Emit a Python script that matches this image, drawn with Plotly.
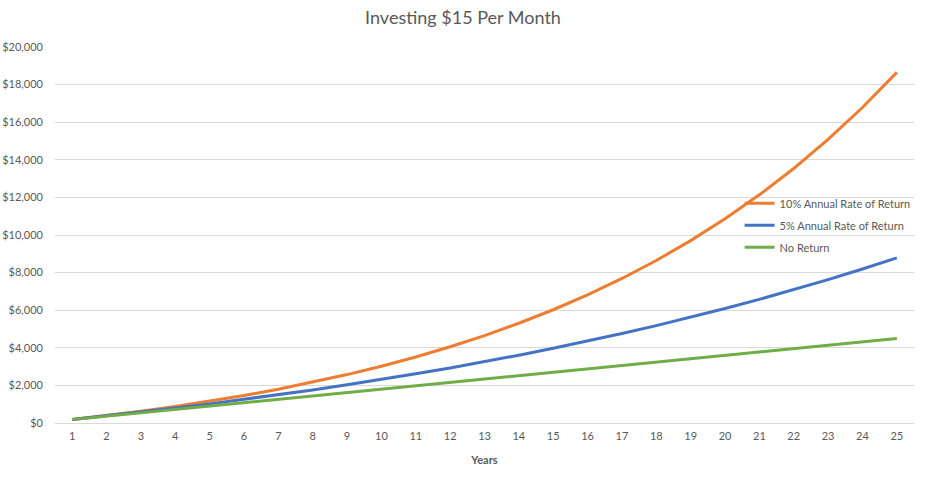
import plotly.graph_objects as go

years = list(range(1, 26))
year_labels = [str(y) for y in years]

rate_10 = [190, 398, 628, 880, 1158, 1463, 1799, 2168, 2575, 3022, 3514, 4055, 4650,
           5305, 6024, 6817, 7688, 8646, 9700, 10860, 12136, 13539, 15083, 16780, 18648]
rate_5 = [184, 377, 581, 794, 1017, 1252, 1499, 1758, 2030, 2316, 2615, 2930, 3261,
          3608, 3972, 4355, 4757, 5179, 5622, 6087, 6576, 7089, 7628, 8193, 8786]
no_return = [180, 360, 540, 720, 900, 1080, 1260, 1440, 1620, 1800, 1980, 2160, 2340,
             2520, 2700, 2880, 3060, 3240, 3420, 3600, 3780, 3960, 4140, 4320, 4500]

series_names = ["10% Annual Rate of Return", "5% Annual Rate of Return", "No Return"]
series_values = [rate_10, rate_5, no_return]
series_colors = ["#ED7D31", "#4472C4", "#70AD47"]

y_tick_vals = list(range(0, 20001, 2000))
y_tick_text = ["$" + format(v, ",") for v in y_tick_vals]

FONT = "Lato"
GRAY = "#595959"
W, H = 926, 480

fig = go.Figure()
for name, vals, col in zip(series_names, series_values, series_colors):
    fig.add_trace(go.Scatter(
        x=year_labels, y=vals, name=name, mode="lines",
        line=dict(color=col, width=3),
        legendgroup=name, hoverinfo="skip",
    ))

fig.update_layout(
    width=W, height=H,
    margin=dict(l=55, r=12, t=47, b=57, autoexpand=False),
    paper_bgcolor="white", plot_bgcolor="white",
    font=dict(family=FONT, color=GRAY, size=11),
    title=dict(text="Investing $15 Per Month", x=0.5, xanchor="center",
               y=1 - 18 / H, yanchor="middle",
               font=dict(family=FONT, size=18, color=GRAY)),
    showlegend=True,
    legend=dict(x=0.797, xanchor="left", y=0.623, yanchor="top",
                bgcolor="rgba(0,0,0,0)", font=dict(family=FONT, size=11, color=GRAY),
                tracegroupgap=3, itemwidth=30),
    xaxis=dict(type="category", range=[-0.5, 24.5], showgrid=False,
               showline=False, zeroline=False, ticks="", automargin=False,
               ticklabelstandoff=5,
               tickfont=dict(family=FONT, size=11, color=GRAY),
               title=dict(text="<b>Years</b>", standoff=15,
                          font=dict(family=FONT, size=11, color=GRAY))),
    yaxis=dict(range=[0, 20000], tickvals=y_tick_vals, ticktext=y_tick_text,
               showgrid=True, gridcolor="#D9D9D9", gridwidth=1,
               zeroline=True, zerolinecolor="#D9D9D9", zerolinewidth=1,
               showline=False, ticks="", ticklabelstandoff=11, automargin=False,
               tickfont=dict(family=FONT, size=11, color=GRAY)),
)

fig.write_html("out.html", config={"displayModeBar": False},
               post_script="document.body.style.margin='0';document.body.style.overflow='hidden';")
